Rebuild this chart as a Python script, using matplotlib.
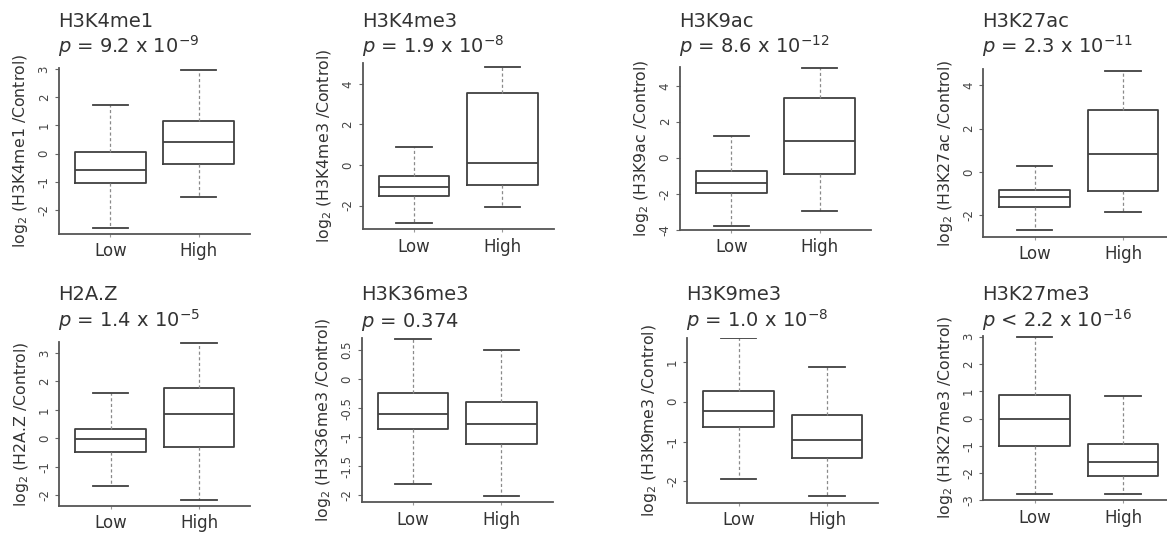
import matplotlib
matplotlib.use('Agg')
import matplotlib.pyplot as plt

plt.rcParams['font.family'] = ['DejaVu Sans']
plt.rcParams['mathtext.fontset'] = 'dejavusans'

# ---------------- data ----------------
marks = ["H3K4me1", "H3K4me3", "H3K9ac", "H3K27ac",
         "H2A.Z", "H3K36me3", "H3K9me3", "H3K27me3"]
p_texts = [r"$p$ = 9.2 x 10$^{-9}$", r"$p$ = 1.9 x 10$^{-8}$",
           r"$p$ = 8.6 x 10$^{-12}$", r"$p$ = 2.3 x 10$^{-11}$",
           r"$p$ = 1.4 x 10$^{-5}$", r"$p$ = 0.374",
           r"$p$ = 1.0 x 10$^{-8}$", r"$p$ < 2.2 x 10$^{-16}$"]
groups = ["Low", "High"]
# each row: whisker low, Q1, median, Q3, whisker high
low_stats = [
    [-2.64, -1.02, -0.57, 0.07, 1.71],
    [-2.88, -1.52, -1.09, -0.54, 0.88],
    [-3.80, -1.99, -1.43, -0.76, 1.19],
    [-2.67, -1.60, -1.18, -0.85, 0.28],
    [-1.68, -0.48, -0.01, 0.34, 1.59],
    [-1.80, -0.86, -0.60, -0.24, 0.69],
    [-1.93, -0.64, -0.23, 0.28, 1.59],
    [-2.78, -0.99, -0.01, 0.86, 3.00],
]
high_stats = [
    [-1.52, -0.36, 0.43, 1.17, 2.95],
    [-2.06, -1.01, 0.08, 3.53, 4.82],
    [-2.94, -0.91, 0.93, 3.32, 4.96],
    [-1.83, -0.88, 0.84, 2.84, 4.67],
    [-2.18, -0.31, 0.84, 1.78, 3.34],
    [-2.02, -1.12, -0.77, -0.40, 0.50],
    [-2.37, -1.42, -0.96, -0.33, 0.87],
    [-2.78, -2.10, -1.60, -0.95, 0.82],
]
y_ticks = [
    [-2, -1, 0, 1, 2, 3],
    [-2, 0, 2, 4],
    [-4, -2, 0, 2, 4],
    [-2, 0, 2, 4],
    [-2, -1, 0, 1, 2, 3],
    [-2, -1.5, -1, -0.5, 0, 0.5],
    [-2, -1, 0, 1],
    [-3, -2, -1, 0, 1, 2, 3],
]

# ---------------- layout (pixels) ----------------
W, H = 1167, 534
# left, top, bottom of each plot region in pixels
rects = [(59, 68, 234), (362.7, 63.3, 229.3), (680, 66.7, 230), (983.3, 69, 236.7),
         (59.3, 342.3, 505.7), (361.7, 337.7, 502.3), (687.3, 338.3, 503), (983.3, 335.7, 500.3)]
ylims = [(-2.84, 3.03), (-3.17, 5.01), (-4.02, 5.06), (-2.99, 4.75),
         (-2.37, 3.37), (-2.12, 0.716), (-2.54, 1.59), (-3.0, 3.04)]
AX_W = 191
title_base = [26.7, 300]
p_base = [53, 326.7]

fig = plt.figure(figsize=(W / 100, H / 100), dpi=100)
fig.patch.set_facecolor('white')

box_col = '#404040'
text_col = '#333333'

for i, name in enumerate(marks):
    left, top, bot = rects[i]
    ax = fig.add_axes([left / W, 1 - bot / H, AX_W / W, (bot - top) / H])
    stats = []
    for g, s in zip(groups, [low_stats[i], high_stats[i]]):
        stats.append(dict(label=g, whislo=s[0], q1=s[1], med=s[2], q3=s[3], whishi=s[4]))
    ax.bxp(stats, positions=[1, 2], widths=0.8, showfliers=False,
           boxprops=dict(color=box_col, linewidth=1.3),
           medianprops=dict(color=box_col, linewidth=1.3),
           whiskerprops=dict(color='#8a8a8a', linewidth=0.9, linestyle=(0, (2.5, 2))),
           capprops=dict(color=box_col, linewidth=1.3),
           capwidths=0.4)
    ax.set_xlim(0.42, 2.58)
    ax.set_ylim(*ylims[i])
    for sp in ['top', 'right']:
        ax.spines[sp].set_visible(False)
    for sp in ['left', 'bottom']:
        ax.spines[sp].set_color('#555555')
        ax.spines[sp].set_linewidth(1.3)
    ax.set_yticks(y_ticks[i])
    ax.set_yticklabels([f"{t:g}" for t in y_ticks[i]], rotation=90, va='center',
                       fontsize=8.5, color='#444444')
    ax.tick_params(axis='y', length=3, width=0.8, color='#666666', pad=3)
    ax.set_xticks([1, 2])
    ax.set_xticklabels(groups, fontsize=12, color=text_col)
    ax.tick_params(axis='x', length=2, width=0.8, color='#999999', pad=4)
    ax.set_ylabel(r"log$_2$ (" + name + " /Control)", fontsize=11.3, color=text_col)
    ax.yaxis.label.set_va('center')
    ax.yaxis.set_label_coords(-38 / AX_W, 0.5)
    row = i // 4
    fig.text((left - 1) / W, 1 - title_base[row] / H, name, fontsize=14,
             color=text_col, va='baseline', ha='left')
    fig.text((left - 1) / W, 1 - p_base[row] / H, p_texts[i], fontsize=14,
             color=text_col, va='baseline', ha='left')

fig.savefig('out.png', dpi=100, facecolor='white')
